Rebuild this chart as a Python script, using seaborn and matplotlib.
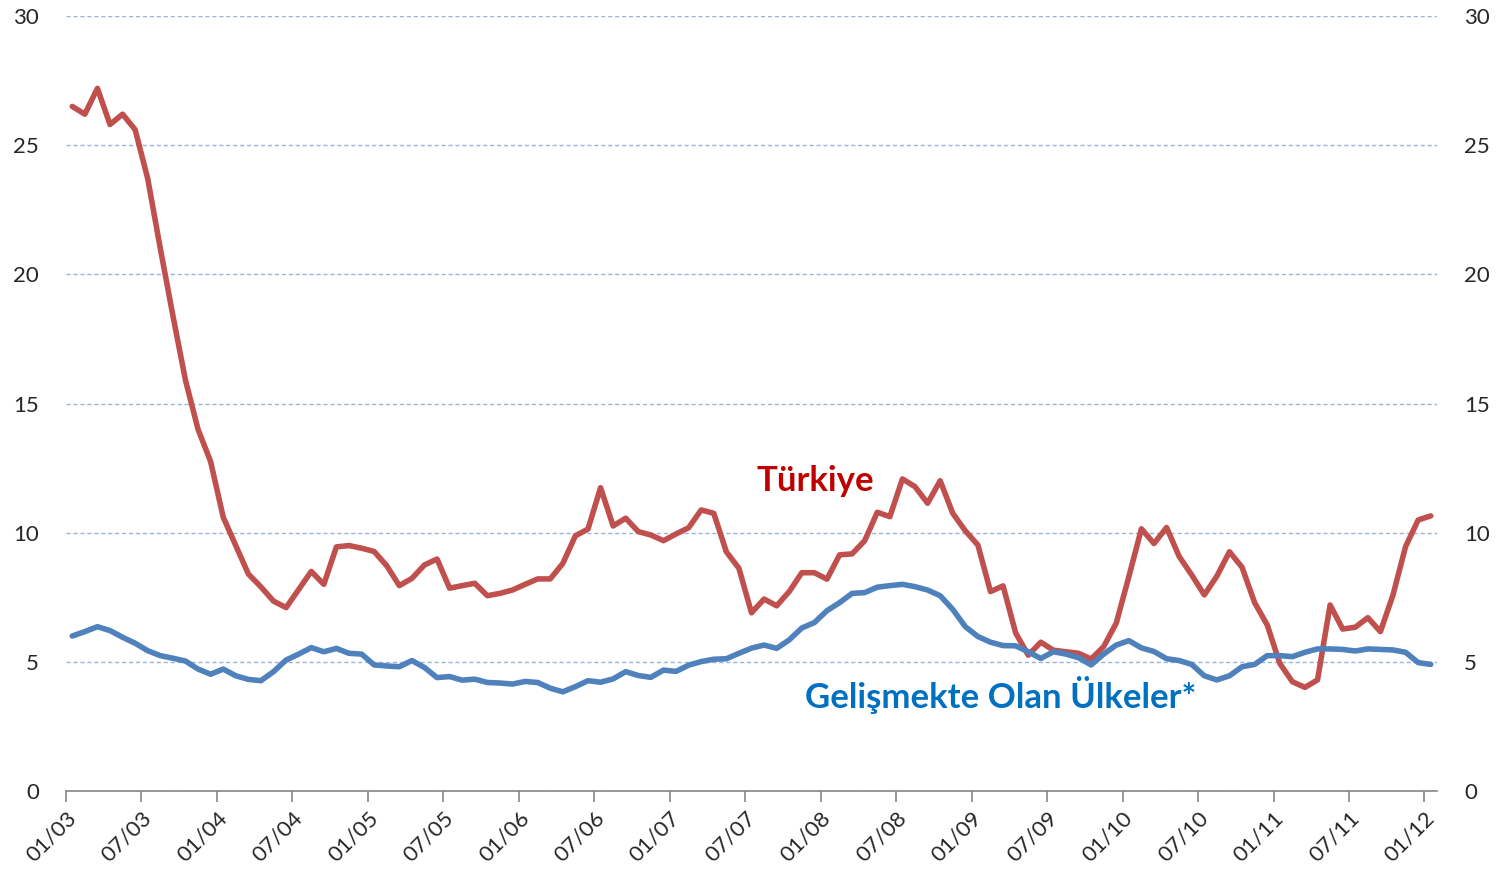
import matplotlib
matplotlib.use('Agg')
import matplotlib.pyplot as plt
import seaborn as sns
import pandas as pd

sns.set_style('white')
plt.rcParams['font.family'] = ['Lato', 'DejaVu Sans']

# aylik seriler, 01/03 - 01/12
turkiye = [26.5, 26.2, 27.2, 25.8, 26.2, 25.6, 23.7, 21.0, 18.4, 15.9,
           14.0, 12.75, 10.6, 9.5, 8.4, 7.9, 7.35, 7.1, 7.8, 8.5,
           8.0, 9.45, 9.5, 9.4, 9.27, 8.72, 7.95, 8.23, 8.75, 8.98,
           7.85, 7.95, 8.04, 7.56, 7.65, 7.78, 8.0, 8.21, 8.21, 8.81,
           9.88, 10.14, 11.74, 10.26, 10.56, 10.04, 9.91, 9.69, 9.95, 10.19,
           10.88, 10.75, 9.26, 8.62, 6.9, 7.43, 7.17, 7.72, 8.45, 8.45,
           8.2, 9.14, 9.18, 9.69, 10.79, 10.62, 12.08, 11.78, 11.14, 12.01,
           10.75, 10.07, 9.52, 7.72, 7.94, 6.12, 5.26, 5.76, 5.45, 5.39,
           5.33, 5.11, 5.59, 6.5, 8.3, 10.15, 9.58, 10.2, 9.08, 8.36,
           7.59, 8.32, 9.26, 8.66, 7.29, 6.43, 4.94, 4.23, 4.01, 4.30,
           7.2, 6.27, 6.34, 6.71, 6.17, 7.59, 9.46, 10.49, 10.65]

gelismekte = [6.0, 6.17, 6.36, 6.21, 5.95, 5.72, 5.43, 5.24, 5.14, 5.03,
              4.72, 4.52, 4.72, 4.46, 4.32, 4.27, 4.62, 5.07, 5.30, 5.55,
              5.39, 5.52, 5.33, 5.30, 4.88, 4.84, 4.81, 5.05, 4.78, 4.39,
              4.43, 4.29, 4.33, 4.20, 4.18, 4.14, 4.24, 4.20, 3.98, 3.84,
              4.04, 4.27, 4.21, 4.34, 4.62, 4.47, 4.40, 4.68, 4.63, 4.87,
              5.01, 5.10, 5.12, 5.33, 5.53, 5.65, 5.52, 5.85, 6.31, 6.52,
              6.98, 7.29, 7.65, 7.68, 7.89, 7.95, 8.0, 7.91, 7.78, 7.56,
              7.03, 6.36, 5.98, 5.76, 5.63, 5.62, 5.39, 5.13, 5.39, 5.30,
              5.16, 4.88, 5.3, 5.65, 5.82, 5.54, 5.4, 5.12, 5.05, 4.90,
              4.46, 4.30, 4.46, 4.81, 4.90, 5.24, 5.24, 5.20, 5.37, 5.50,
              5.50, 5.48, 5.42, 5.50, 5.48, 5.46, 5.37, 4.97, 4.90]

tick_labels = ['01/03', '07/03', '01/04', '07/04', '01/05', '07/05', '01/06',
               '07/06', '01/07', '07/07', '01/08', '07/08', '01/09', '07/09',
               '01/10', '07/10', '01/11', '07/11', '01/12']

n = len(turkiye)
df = pd.DataFrame({
    'ay': list(range(n)) * 2,
    'deger': turkiye + gelismekte,
    'seri': ['Türkiye'] * n + ['Gelişmekte'] * n,
})

fig = plt.figure(figsize=(15.03, 8.75), dpi=100)
ax = fig.add_axes([0.0439, 0.096, 0.9122, 0.8857])

sns.lineplot(data=df, x='ay', y='deger', hue='seri',
             palette={'Türkiye': '#C0504D', 'Gelişmekte': '#4F81BD'},
             linewidth=4.0, legend=False, ax=ax)

ax.set_xlim(-0.5, n - 0.5)
ax.set_ylim(0, 30)
ax.set_yticks(range(0, 31, 5))
ax.yaxis.grid(True, linestyle=(0, (3, 2)), color='#98B4D8', linewidth=1)
ax.set_axisbelow(True)

ax.set_xticks([i - 0.5 for i in range(0, n, 6)])
ax.set_xticklabels(tick_labels, rotation=45, ha='right', rotation_mode='anchor')

for s in ['top', 'left', 'right']:
    ax.spines[s].set_visible(False)
ax.spines['bottom'].set_color('#868686')
ax.spines['bottom'].set_linewidth(1.2)

ax.tick_params(axis='x', bottom=True, length=8, color='#868686', width=1.2,
               labelsize=16, pad=4)
ax.tick_params(axis='y', left=False, right=False, labelleft=True,
               labelright=True, labelsize=16, pad=16)
ax.set_xlabel('')
ax.set_ylabel('')

ax.text(59.1, 12.0, 'Türkiye', color='#C00000', fontsize=25,
        fontweight='bold', ha='center', va='center')
ax.text(73.8, 3.7, 'Gelişmekte Olan Ülkeler*', color='#0070C0', fontsize=25,
        fontweight='bold', ha='center', va='center')

fig.savefig('out.png', dpi=100)
